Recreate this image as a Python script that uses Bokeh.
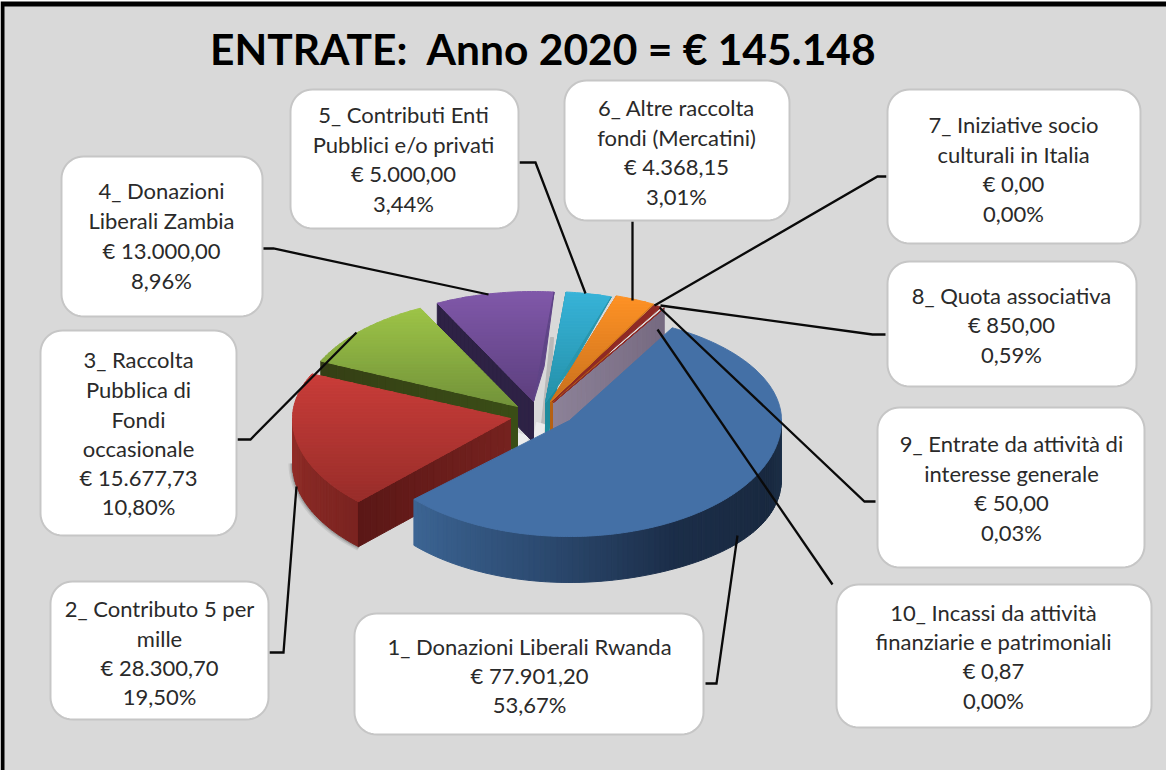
import math
from bokeh.plotting import figure
from bokeh.models import Range1d, ColumnDataSource
from bokeh.core.properties import value
from bokeh.embed import file_html
from bokeh.resources import INLINE

# ---------- data ----------
title = "ENTRATE:\u00a0 Anno 2020 = € 145.148"
categories = [
    ["1_ Donazioni Liberali Rwanda"],
    ["2_ Contributo 5 per", "mille"],
    ["3_ Raccolta", "Pubblica di", "Fondi", "occasionale"],
    ["4_ Donazioni", "Liberali Zambia"],
    ["5_ Contributi Enti", "Pubblici e/o privati"],
    ["6_ Altre raccolta", "fondi (Mercatini)"],
    ["7_ Iniziative socio", "culturali in Italia"],
    ["8_ Quota associativa"],
    ["9_ Entrate da attività di", "interesse generale"],
    ["10_ Incassi da attività", "finanziarie e patrimoniali"],
]
amounts = [77901.20, 28300.70, 15677.73, 13000.00, 5000.00, 4368.15, 0.00, 850.00, 50.00, 0.87]
amount_labels = ["€ 77.901,20", "€ 28.300,70", "€ 15.677,73", "€ 13.000,00", "€ 5.000,00",
                 "€ 4.368,15", "€ 0,00", "€ 850,00", "€ 50,00", "€ 0,87"]
percent_labels = ["53,67%", "19,50%", "10,80%", "8,96%", "3,44%", "3,01%", "0,00%", "0,59%", "0,03%", "0,00%"]

# ---------- layout (page pixels) ----------
START = 59.0
# vertex x, vertex y, a, b above, b below, nudge start, nudge end
GEOM = [
    (577, 428, 212, 106, 116, 2, -3),
    (518, 426, 218, 108, 116, 0, 0),
    (525, 414, 216, 110, 110, 0, 0),
    (541, 409, 214, 110, 110, 0, 0),
    (553, 410, 214, 111, 111, 0, 0),
    (558, 409, 214, 111, 111, 0, 0),
    (560, 409, 212, 110, 110, 0, 0),
    (560, 409, 212, 110, 110, 0, 0),
    (561, 410, 215, 110, 110, 0, 0),
    (561, 410, 215, 110, 110, 0, 0),
]
TOP = [("#4470a6", "#4470a6"), ("#c93d39", "#982d2a"), ("#9dc447", "#72923a"), ("#8058a9", "#5c3f7e"),
       ("#37b3d8", "#2590a8"), ("#fe9225", "#c8701e"), ("#8f2a25", "#8f2a25"), ("#8f2a25", "#8f2a25"),
       ("#8f2a25", "#8f2a25"), ("#8f2a25", "#8f2a25")]
SIDE = ["#3b6190", "#5a1716", "#353f15", "#2e2245", "#1f8c9d", "#b56113", "#766a80", "#766a80", "#766a80", "#766a80"]
DEPTH = [46, 45, 44, 41, 46, 46, 46, 46, 46, 46]
BOXES = [(362, 621, 711, 742), (58, 589, 276, 727), (48, 338, 244, 543), (69, 164, 270, 324),
         (298, 97, 526, 236), (572, 88, 797, 228), (895, 97, 1148, 251), (895, 269, 1144, 394),
         (885, 415, 1152, 575), (844, 592, 1159, 735)]
LINE_Y = [[654, 683, 712], [616, 646, 675, 704], [367, 397, 427, 456, 485, 514], [198, 228, 258, 288],
          [122, 152, 181, 211], [115, 145, 174, 204], [132, 162, 191, 221], [303, 332, 362],
          [451, 481, 510, 540], [620, 649, 678, 708]]
LINE_X = [537, 167, 146, 169, 411, 684, 1021, 1019, 1019, 1001]
LEADERS = [
    [(713, 691), (724, 691), (745, 543)],
    [(277, 660), (291, 660), (304, 494)],
    [(245, 447), (258, 447), (364, 340)],
    [(270, 256), (281, 256), (496, 302)],
    [(527, 170), (543, 170), (593, 301)],
    [(640, 229), (640, 308)],
    [(894, 184), (885, 184), (662, 313)],
    [(893, 342), (880, 342), (668, 313)],
    [(883, 509), (872, 509), (667, 315)],
    [(840, 592), (665, 337)],
]


def hex2rgb(c):
    return tuple(int(c[i:i + 2], 16) for i in (1, 3, 5))


def mix(c0, c1, f):
    f = max(0.0, min(1.0, f))
    a, b = hex2rgb(c0), hex2rgb(c1)
    return "#%02x%02x%02x" % tuple(round(a[i] + (b[i] - a[i]) * f) for i in range(3))


def multi_mix(stops, t):
    for (t0, c0), (t1, c1) in zip(stops, stops[1:]):
        if t <= t1:
            return mix(c0, c1, (t - t0) / (t1 - t0))
    return stops[-1][1]


def rim(g, t):
    vx, vy, a, bt, bb = g[:5]
    s = math.sin(math.radians(t))
    return vx + a * math.cos(math.radians(t)), vy - (bt if s > 0 else bb) * s


def clip_half(poly, y, keep_below):
    out = []
    n = len(poly)
    for i in range(n):
        p, q = poly[i], poly[(i + 1) % n]
        pin = p[1] >= y if keep_below else p[1] <= y
        qin = q[1] >= y if keep_below else q[1] <= y
        if pin:
            out.append(p)
        if pin != qin:
            f = (y - p[1]) / (q[1] - p[1])
            out.append((p[0] + (q[0] - p[0]) * f, y))
    return out


polys = []


def add(poly, color):
    if len(poly) >= 3:
        polys.append(([p[0] for p in poly], [p[1] for p in poly], color, color))


total = sum(amounts)
angles = []
cur = START
for v in amounts:
    nxt = cur - v / total * 360.0
    angles.append((cur, nxt))
    cur = nxt


def slice_span(i):
    t0, t1 = angles[i]
    return t0 + GEOM[i][5], t1 + GEOM[i][6]


def draw_radial(i, edge, shade0=None, shade1=None):
    """Radial face on one edge of the slice, running in from the rim to the vertex."""
    g = GEOM[i]
    cx, cy = rim(g, slice_span(i)[edge])
    n = 24
    c0 = shade0 or SIDE[i]
    c1 = shade1 or SIDE[i]
    for k in range(n):
        f0, f1 = k / n, (k + 1) / n
        x0, y0 = cx + (g[0] - cx) * f0, cy + (g[1] - cy) * f0
        x1, y1 = cx + (g[0] - cx) * f1, cy + (g[1] - cy) * f1
        add([(x0, y0), (x1, y1), (x1, y1 + DEPTH[i]), (x0, y0 + DEPTH[i])], mix(c0, c1, (f0 + f1) / 2))


def draw_top(i):
    g = GEOM[i]
    t0, t1 = slice_span(i)
    n = max(2, int(abs(t0 - t1) * 1.5))
    poly = [(g[0], g[1])] + [rim(g, t0 + (t1 - t0) * k / n) for k in range(n + 1)]
    c0, c1 = TOP[i]
    if c0 == c1:
        add(poly, c0)
        return
    ymin = min(p[1] for p in poly)
    ymax = max(p[1] for p in poly)
    y = ymin
    step = 3.0
    while y < ymax:
        band = clip_half(clip_half(poly, y - 0.3, True), y + step + 0.3, False)
        add(band, mix(c0, c1, (y - ymin) / (ymax - ymin)))
        y += step


def draw_wall(i, ta, tb, stops, extra=0):
    g = GEOM[i]
    n = int(abs(ta - tb) / 1.5)
    for k in range(n):
        t0 = ta + (tb - ta) * k / n
        t1 = ta + (tb - ta) * (k + 1) / n
        p0, p1 = rim(g, t0), rim(g, t1)
        d0 = DEPTH[i] + extra * max(0, math.cos(math.radians(t0))) ** 3
        d1 = DEPTH[i] + extra * max(0, math.cos(math.radians(t1))) ** 3
        add([p0, p1, (p1[0], p1[1] + d1), (p0[0], p0[1] + d0)], multi_mix(stops, (t0 + t1) / 2))


def sliver(i, color):
    g = GEOM[i]
    c = rim(g, slice_span(i)[1])
    inner = (g[0] + (c[0] - g[0]) * 0.32 + 4, g[1] + (c[1] - g[1]) * 0.32)
    add([c, (g[0], g[1]), inner], color)


# soft shadow gaps
add([(558, 345), (561, 345), (556, 432), (549, 432)], "#b9b9b9")
add([(544, 430), (552, 432), (549, 452), (540, 452)], "#ececec")
add([(524, 440), (536, 444), (531, 458), (522, 458)], "#ececec")

# back slices
for i in (4, 5):
    draw_radial(i, 0)
    draw_top(i)
    sliver(i, "#2896ad" if i == 4 else "#d27a1c")
draw_radial(9, 1, "#766a80", "#8c8198")
for i in (6, 7, 8, 9):
    draw_top(i)

# purple, green
draw_radial(3, 0)
draw_top(3)
sliver(3, "#5f4487")
draw_radial(2, 0, "#353f15", "#3a4d16")
draw_top(2)

# red
red_t0 = slice_span(1)[0]
draw_wall(1, red_t0, -180, [(-180, "#932d28"), (-134, "#7a2320")])
draw_radial(1, 0, "#5a1716", "#76221f")
draw_top(1)

# blue
blue_t1 = slice_span(0)[1]
draw_wall(0, blue_t1, 0, [(-138, "#3c6594"), (-100, "#2d4c73"), (-60, "#1b2d48"), (-20, "#19293f"), (0, "#1c3048")], extra=12)
draw_top(0)

src = ColumnDataSource(dict(
    xs=[q[0] for q in polys], ys=[q[1] for q in polys],
    fill=[q[2] for q in polys], edge=[q[3] for q in polys],
))

p = figure(width=1166, height=770, x_range=Range1d(8, 1174), y_range=Range1d(778, 8),
           x_axis_type=None, y_axis_type=None, toolbar_location=None, output_backend="svg",
           min_border=0, outline_line_color=None, background_fill_color="white",
           border_fill_color="white")
p.grid.visible = False

# black frame, grey panel
p.quad(left=[8], right=[1174], top=[9], bottom=[778], fill_color="#000000", line_color=None)
p.quad(left=[12], right=[1174], top=[14], bottom=[778], fill_color="#d9d9d9", line_color=None)

# soft shadow below the red wall
g_red = GEOM[1]
sx, sy = [], []
for k in range(47):
    t = -180 + k
    q = rim(g_red, t)
    sx.append(q[0])
    sy.append(q[1] + DEPTH[1])
for w, a in ((8, 0.10), (5, 0.14), (3, 0.18)):
    p.line(sx, sy, line_color="#303030", line_width=w, line_alpha=a)

p.patches("xs", "ys", source=src, fill_color="fill", line_color="edge", line_width=1)

# leaders
p.multi_line([[q[0] for q in l] for l in LEADERS], [[q[1] for q in l] for l in LEADERS],
             line_color="#0a0a0a", line_width=2.3, line_join="miter")


# boxes
def round_box(x0, y0, x1, y1, r=22):
    pts = []
    for cx, cy, a0 in ((x1 - r, y0 + r, -90), (x1 - r, y1 - r, 0), (x0 + r, y1 - r, 90), (x0 + r, y0 + r, 180)):
        for k in range(13):
            t = math.radians(a0 + 90 * k / 12)
            pts.append((cx + r * math.cos(t), cy + r * math.sin(t)))
    return pts


shapes = [round_box(*b) for b in BOXES]
p.patches([[q[0] for q in s] for s in shapes], [[q[1] for q in s] for s in shapes],
          fill_color="white", line_color="#c6c6c6", line_width=2)

# labels
tx, ty, tt = [], [], []
for i in range(len(categories)):
    lines = categories[i] + [amount_labels[i], percent_labels[i]]
    for s, y in zip(lines, LINE_Y[i]):
        tx.append(LINE_X[i])
        ty.append(y)
        tt.append(s)
p.text(tx, ty, text=tt, text_font=value("Lato"), text_font_size=value("22px"), text_color="#2a2a2a",
       text_align="center", text_baseline="middle")

p.text([551], [56], text=[title], text_font=value("Lato"), text_font_size=value("42.5px"),
       text_font_style="bold", text_color="#000000", text_align="center", text_baseline="middle")

open("out.html", "w").write(file_html(p, INLINE))
